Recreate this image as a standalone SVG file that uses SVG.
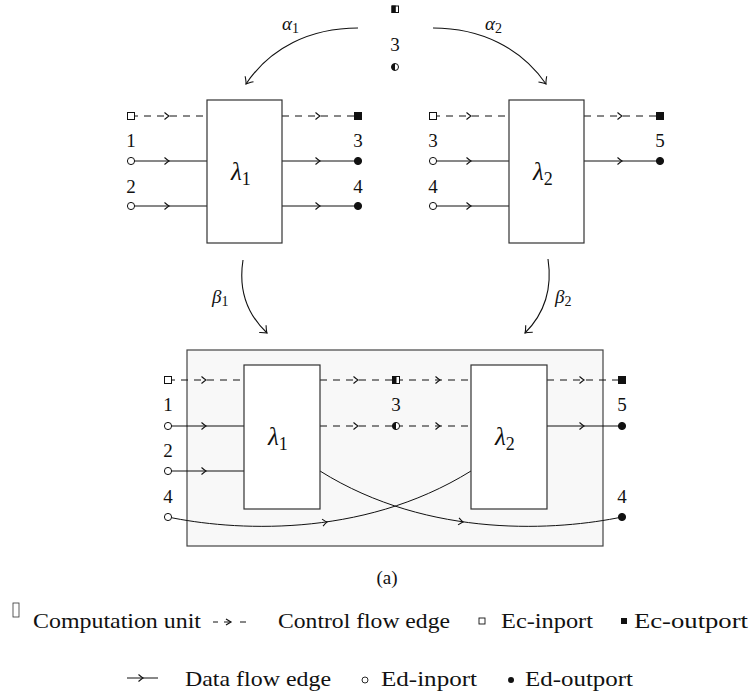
<svg xmlns="http://www.w3.org/2000/svg" width="751" height="695" viewBox="0 0 751 695" font-family="'Liberation Serif', 'DejaVu Serif', serif">
<style>
text{font-family:'Liberation Serif','DejaVu Serif',serif;fill:#111}
.lbl{font-size:19px;text-anchor:middle}
.mi{font-style:italic}
.box{fill:#fff;stroke:#333;stroke-width:1.2}
.outer{fill:#f8f8f8;stroke:#444;stroke-width:1.2}
.d{fill:none;stroke:#111;stroke-width:1}
.c{fill:none;stroke:#111;stroke-width:1;stroke-dasharray:7 6}
.m{marker-mid:url(#tip)}
.arc{fill:none;stroke:#111;stroke-width:1.1;marker-end:url(#big)}
.po{fill:#fff;stroke:#111;stroke-width:1}
.pf{fill:#111;stroke:#111;stroke-width:1}
.t{fill:none;stroke:#111;stroke-width:1}
.leg{font-size:22px}
</style>
<defs>
<marker id="tip" markerUnits="userSpaceOnUse" markerWidth="12" markerHeight="12" refX="0" refY="0" viewBox="-6 -6 12 12" orient="auto" overflow="visible">
<path d="M-4.5,-3.5 Q-1.2,-0.6 0,0 Q-1.2,0.6 -4.5,3.5" fill="none" stroke="#111" stroke-width="1.1"/>
</marker>
<marker id="big" markerUnits="userSpaceOnUse" markerWidth="16" markerHeight="16" refX="0" refY="0" viewBox="-8 -8 16 16" orient="auto" overflow="visible">
<path d="M-6,-5 Q-1.8,-0.9 0,0 Q-1.8,0.9 -6,5" fill="none" stroke="#111" stroke-width="1.1"/>
</marker>
<path id="tp" d="M-4.5,-3.5 Q-1.2,-0.6 0,0 Q-1.2,0.6 -4.5,3.5" fill="none" stroke="#111" stroke-width="1.1"/>
</defs>

<g id="composed">
<rect class="outer" x="187" y="350" width="416" height="196"/>
</g>

<g id="connectors">
<path class="c m" d="M131,116 L169,116 L207,116"/>
<path class="d m" d="M131,161 L169,161 L207,161"/>
<path class="d m" d="M131,206 L169,206 L207,206"/>
<path class="c m" d="M282,116 L320,116 L358,116"/>
<path class="d m" d="M282,161 L320,161 L358,161"/>
<path class="d m" d="M282,206 L320,206 L358,206"/>
<path class="c m" d="M433,116 L471,116 L509,116"/>
<path class="d m" d="M433,161 L471,161 L509,161"/>
<path class="d m" d="M433,206 L471,206 L509,206"/>
<path class="c m" d="M584,116 L622,116 L660,116"/>
<path class="d m" d="M584,161 L622,161 L660,161"/>
<path class="arc" d="M358,28 C310,28 270,48 246,84"/>
<path class="arc" d="M433,28 C481,28 521,48 546,84"/>
<path class="arc" d="M243,260 C238,292 248,315 267,333"/>
<path class="arc" d="M548,259 C553,292 543,315 525,333"/>
<path class="c m" d="M168,380 L206,380 L244,380"/>
<path class="c m" d="M320,380 L358,380 L396,380"/>
<path class="c m" d="M396,380 L440,380 L471,380"/>
<path class="c m" d="M547,380 L584,380 L622,380"/>
<path class="d m" d="M168,426 L206,426 L244,426"/>
<path class="c m" d="M320,426 L358,426 L396,426"/>
<path class="c m" d="M396,426 L440,426 L471,426"/>
<path class="d m" d="M547,426 L584,426 L622,426"/>
<path class="d m" d="M168,471 L206,471 L244,471"/>
<path class="d" d="M168,517 C230,530 360,540 471,471"/>
<path class="d" d="M320,471 C430,540 560,530 622,517"/>
<use href="#tp" transform="translate(327,522) rotate(-8)"/>
<use href="#tp" transform="translate(463,522) rotate(8)"/>
</g>

<g id="unit-lambda1-top">
<rect class="box" x="207" y="100" width="75" height="143"/>
<text x="231" y="180" font-size="25" class="mi">λ<tspan font-size="18" font-style="normal" dy="5">1</tspan></text>
<rect class="po" x="127.5" y="112.5" width="7" height="7"/>
<circle class="po" cx="131" cy="161" r="3.6"/>
<circle class="po" cx="131" cy="206" r="3.6"/>
<rect class="pf" x="354.5" y="112.5" width="7" height="7"/>
<circle class="pf" cx="358" cy="161" r="3.6"/>
<circle class="pf" cx="358" cy="206" r="3.6"/>
<text class="lbl" x="131" y="147">1</text>
<text class="lbl" x="131" y="193">2</text>
<text class="lbl" x="358" y="147">3</text>
<text class="lbl" x="358" y="193">4</text>
</g>

<g id="unit-lambda2-top">
<rect class="box" x="509" y="100" width="75" height="143"/>
<text x="533" y="180" font-size="25" class="mi">λ<tspan font-size="18" font-style="normal" dy="5">2</tspan></text>
<rect class="po" x="429.5" y="112.5" width="7" height="7"/>
<circle class="po" cx="433" cy="161" r="3.6"/>
<circle class="po" cx="433" cy="206" r="3.6"/>
<rect class="pf" x="656.5" y="112.5" width="7" height="7"/>
<circle class="pf" cx="660" cy="161" r="3.6"/>
<text class="lbl" x="433" y="147">3</text>
<text class="lbl" x="433" y="193">4</text>
<text class="lbl" x="660" y="147">5</text>
</g>

<g id="shared-port-top">
<rect class="po" x="392" y="6" width="6.5" height="6.5"/>
<rect class="pf" x="392" y="6" width="3.25" height="6.5" stroke="none"/>
<text class="lbl" x="395" y="51">3</text>
<circle class="po" cx="395" cy="67" r="3.5"/>
<path d="M395,63.5 A3.5,3.5 0 0 0 395,70.5 Z" fill="#111"/>
</g>

<g id="labels">
<text x="282" y="30" font-size="19" class="mi">α<tspan font-size="14" font-style="normal" dy="3">1</tspan></text>
<text x="485" y="30" font-size="19" class="mi">α<tspan font-size="14" font-style="normal" dy="3">2</tspan></text>
<text x="212" y="303" font-size="19" class="mi">β<tspan font-size="14" font-style="normal" dy="3">1</tspan></text>
<text x="555" y="303" font-size="19" class="mi">β<tspan font-size="14" font-style="normal" dy="3">2</tspan></text>
</g>

<g id="unit-lambda1-bottom">
<rect class="box" x="244" y="365" width="76" height="144"/>
<text x="268" y="445" font-size="25" class="mi">λ<tspan font-size="18" font-style="normal" dy="5">1</tspan></text>
</g>
<g id="unit-lambda2-bottom">
<rect class="box" x="471" y="365" width="76" height="144"/>
<text x="495" y="445" font-size="25" class="mi">λ<tspan font-size="18" font-style="normal" dy="5">2</tspan></text>
</g>
<g id="ports-bottom">
<rect class="po" x="164.5" y="376.5" width="7" height="7"/>
<circle class="po" cx="168" cy="426" r="3.6"/>
<circle class="po" cx="168" cy="471" r="3.6"/>
<circle class="po" cx="168" cy="517" r="3.6"/>
<rect class="po" x="392.5" y="376.5" width="7" height="7"/>
<rect class="pf" x="392.5" y="376.5" width="3.5" height="7" stroke="none"/>
<circle class="po" cx="396" cy="426" r="3.6"/>
<path d="M396,422.4 A3.6,3.6 0 0 0 396,429.6 Z" fill="#111"/>
<rect class="pf" x="618.5" y="376.5" width="7" height="7"/>
<circle class="pf" cx="622" cy="426" r="3.6"/>
<circle class="pf" cx="622" cy="517" r="3.6"/>
<text class="lbl" x="168" y="411">1</text>
<text class="lbl" x="168" y="457">2</text>
<text class="lbl" x="168" y="503">4</text>
<text class="lbl" x="396" y="411">3</text>
<text class="lbl" x="622" y="411">5</text>
<text class="lbl" x="622" y="503">4</text>
</g>
<text class="lbl" x="387" y="584">(a)</text>

<g id="legend">
<rect x="13" y="603" width="6" height="14" fill="none" stroke="#333" stroke-width="0.8"/>
<text class="leg" x="33" y="628" textLength="168" lengthAdjust="spacingAndGlyphs">Computation unit</text>
<path class="t" d="M213,622 L218,622 M224,622 L230,622 M240,622 L246,622"/>
<path d="M226,619 L231,622 L226,625" fill="none" stroke="#111" stroke-width="1.2"/>
<text class="leg" x="278" y="628" textLength="172" lengthAdjust="spacingAndGlyphs">Control flow edge</text>
<rect x="479" y="618" width="6" height="6" fill="#fff" stroke="#111" stroke-width="0.9"/>
<text class="leg" x="501" y="628" textLength="92" lengthAdjust="spacingAndGlyphs">Ec-inport</text>
<rect x="621" y="618" width="6" height="6" fill="#111"/>
<text class="leg" x="634" y="628" textLength="114" lengthAdjust="spacingAndGlyphs">Ec-outport</text>

<path class="t" d="M127,678 L158,678"/>
<use href="#tp" transform="translate(143,678)"/>
<text class="leg" x="185" y="686" textLength="146" lengthAdjust="spacingAndGlyphs">Data flow edge</text>
<circle cx="365" cy="680" r="3" fill="#fff" stroke="#111" stroke-width="0.9"/>
<text class="leg" x="381" y="686" textLength="96" lengthAdjust="spacingAndGlyphs">Ed-inport</text>
<circle cx="511" cy="680" r="3" fill="#111"/>
<text class="leg" x="525" y="686" textLength="108" lengthAdjust="spacingAndGlyphs">Ed-outport</text>
</g>
</svg>
